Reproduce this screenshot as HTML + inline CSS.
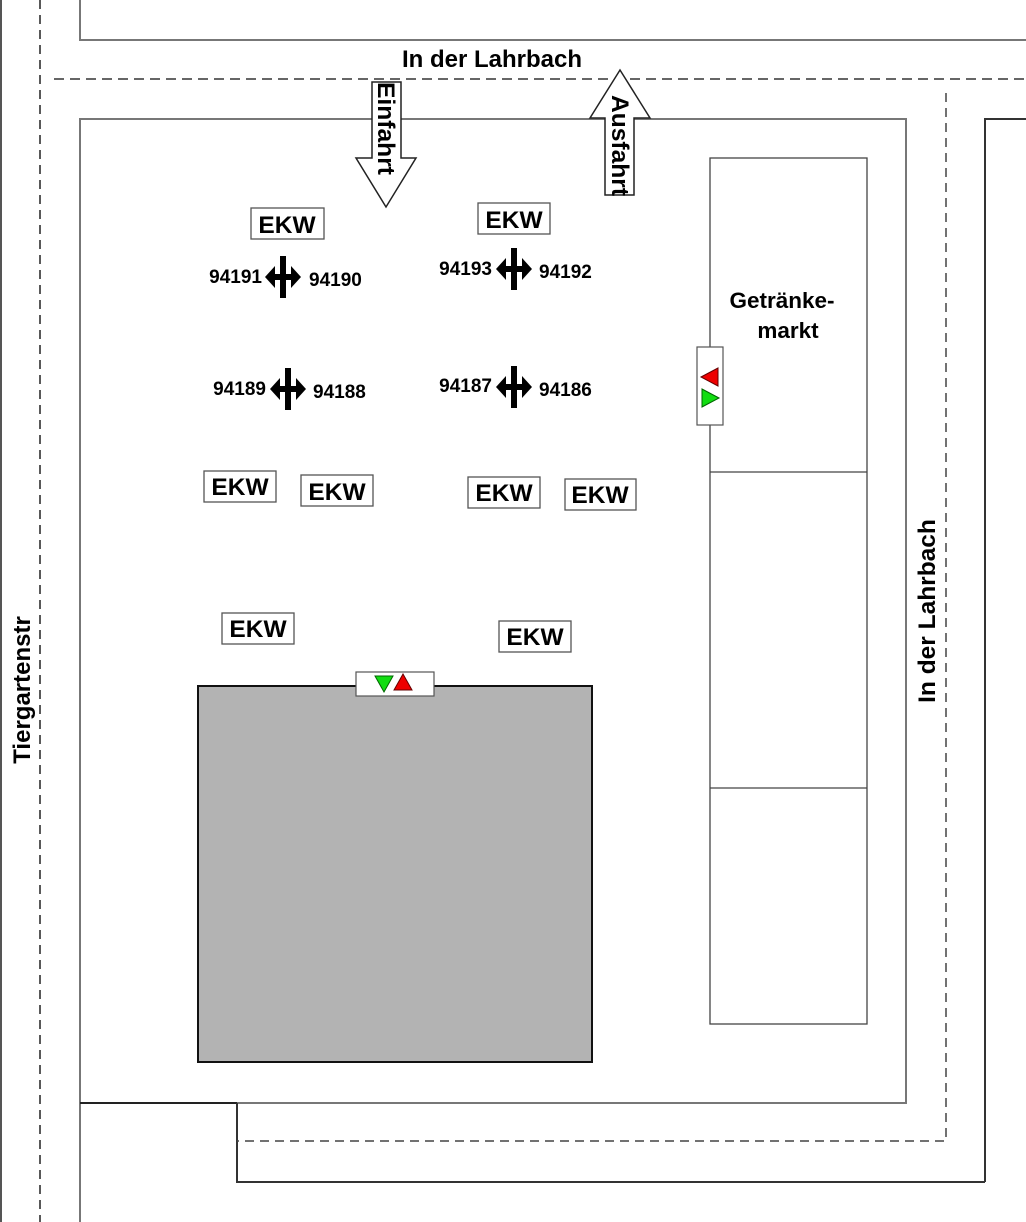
<!DOCTYPE html>
<html><head><meta charset="utf-8"><style>html,body{margin:0;padding:0;background:#fff}svg{display:block}</style></head>
<body>
<svg width="1026" height="1222" viewBox="0 0 1026 1222" xmlns="http://www.w3.org/2000/svg" font-family="Liberation Sans, Arial, sans-serif" font-weight="bold">
<defs>
<g id="x">
<rect x="-3" y="-21" width="6" height="42" fill="#000"/>
<rect x="-10" y="-3" width="20" height="6" fill="#000"/>
<polygon points="-18,0 -8,-11 -8,11" fill="#000"/>
<polygon points="18,0 8,-11 8,11" fill="#000"/>
</g>
</defs>
<g fill="none" stroke-width="2">
<line x1="1" y1="0" x2="1" y2="1222" stroke="#555"/>
<line x1="40" y1="0" x2="40" y2="1222" stroke="#222" stroke-dasharray="9,6" stroke-width="1.5"/>
<polyline points="80,0 80,40 1026,40" stroke="#777"/>
<line x1="54" y1="79" x2="1026" y2="79" stroke="#333" stroke-dasharray="10,6" stroke-width="1.5"/>
<polyline points="80,1222 80,119 906,119 906,1103 237,1103" stroke="#777"/>
<line x1="80" y1="1103" x2="237" y2="1103" stroke="#222"/>
<polyline points="237,1103 237,1182 985,1182" stroke="#333"/>
<polyline points="985,1182 985,119 1026,119" stroke="#333"/>
<polyline points="946,93 946,1141 237,1141" stroke="#444" stroke-dasharray="9,6" stroke-width="1.5"/>
</g>
<rect x="198" y="686" width="394" height="376" fill="#b3b3b3" stroke="#111" stroke-width="2"/>
<rect x="710" y="158" width="157" height="866" fill="#fff" stroke="#444" stroke-width="1.3"/>
<line x1="710" y1="472" x2="867" y2="472" stroke="#444" stroke-width="1.3"/>
<line x1="710" y1="788" x2="867" y2="788" stroke="#444" stroke-width="1.3"/>
<text x="782" y="308" font-size="22.5" text-anchor="middle">Getränke-</text>
<text x="788" y="338" font-size="22.5" text-anchor="middle">markt</text>
<rect x="697" y="347" width="26" height="78" fill="#fff" stroke="#555" stroke-width="1.2"/>
<polygon points="701,377 718,368 718,386" fill="#e00" stroke="#600"/>
<polygon points="719,398 702,389 702,407" fill="#1d1" stroke="#060"/>
<rect x="356" y="672" width="78" height="24" fill="#fff" stroke="#555" stroke-width="1.2"/>
<polygon points="375,676 393,676 384,692" fill="#1d1" stroke="#060"/>
<polygon points="394,690 412,690 403,674" fill="#e00" stroke="#600"/>
<polygon points="372,82 401,82 401,158 416,158 386,207 356,158 372,158" fill="#fff" stroke="#222" stroke-width="1.5"/>
<polygon points="605,195 634,195 634,118 650,118 620,70 590,118 605,118" fill="#fff" stroke="#222" stroke-width="1.5"/>
<text transform="translate(378,82) rotate(90)" font-size="24" textLength="93" lengthAdjust="spacingAndGlyphs">Einfahrt</text>
<text transform="translate(612,95) rotate(90)" font-size="24" textLength="101" lengthAdjust="spacingAndGlyphs">Ausfahrt</text>
<text x="492" y="67" font-size="24" text-anchor="middle">In der Lahrbach</text>
<text transform="translate(30,690) rotate(-90)" font-size="24" text-anchor="middle">Tiergartenstr</text>
<text transform="translate(935,611) rotate(-90)" font-size="24.5" text-anchor="middle">In der Lahrbach</text>
<g fill="#fff" stroke="#555" stroke-width="1.3">
<rect x="251" y="208" width="73" height="31"/>
<rect x="478" y="203" width="72" height="31"/>
<rect x="204" y="471" width="72" height="31"/>
<rect x="301" y="475" width="72" height="31"/>
<rect x="468" y="477" width="72" height="31"/>
<rect x="565" y="479" width="71" height="31"/>
<rect x="222" y="613" width="72" height="31"/>
<rect x="499" y="621" width="72" height="31"/>
</g>
<g font-size="24.5" text-anchor="middle">
<text x="287" y="233">EKW</text>
<text x="514" y="228">EKW</text>
<text x="240" y="495">EKW</text>
<text x="337" y="500">EKW</text>
<text x="504" y="501">EKW</text>
<text x="600" y="503">EKW</text>
<text x="258" y="637">EKW</text>
<text x="535" y="645">EKW</text>
</g>
<use href="#x" x="283" y="277"/>
<use href="#x" x="288" y="389"/>
<use href="#x" x="514" y="269"/>
<use href="#x" x="514" y="387"/>
<g font-size="19">
<text x="262" y="283" text-anchor="end">94191</text>
<text x="309" y="286">94190</text>
<text x="266" y="395" text-anchor="end">94189</text>
<text x="313" y="398">94188</text>
<text x="492" y="275" text-anchor="end">94193</text>
<text x="539" y="278">94192</text>
<text x="492" y="392" text-anchor="end">94187</text>
<text x="539" y="396">94186</text>
</g>
</svg>
</body></html>
